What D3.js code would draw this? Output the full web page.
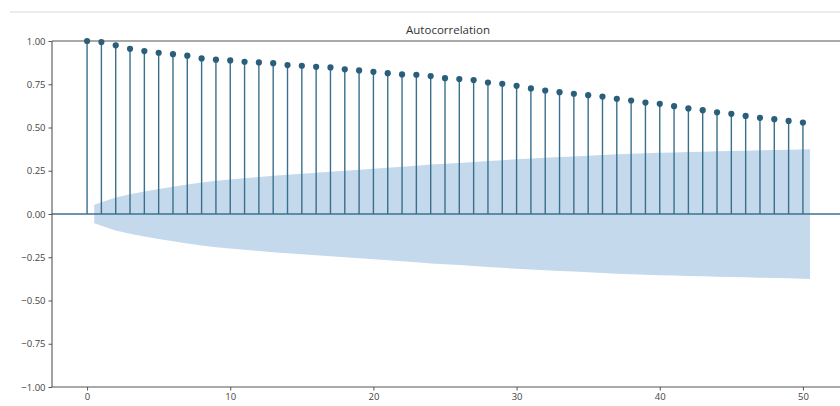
<!DOCTYPE html>
<html>
<head>
<meta charset="utf-8">
<script src="https://cdn.jsdelivr.net/npm/d3@7"></script>
<style>
  html, body { margin: 0; padding: 0; background: #ffffff; }
  svg { display: block; }
</style>
</head>
<body>
<div id="chart"></div>
<script>
// ---- data ----
const title = "Autocorrelation";
const lags = d3.range(0, 51);
const acfValues = [
  1.000, 0.994, 0.975, 0.955, 0.942, 0.932, 0.924, 0.915, 0.899, 0.892,
  0.888, 0.880, 0.876, 0.872, 0.861, 0.857, 0.851, 0.847, 0.836, 0.830,
  0.822, 0.814, 0.807, 0.805, 0.797, 0.785, 0.780, 0.774, 0.760, 0.753,
  0.741, 0.726, 0.714, 0.704, 0.695, 0.687, 0.679, 0.666, 0.656, 0.644,
  0.637, 0.623, 0.610, 0.600, 0.588, 0.579, 0.567, 0.556, 0.548, 0.538,
  0.529
];
const bandLags = [0.5].concat(d3.range(1, 50), [50.5]);
const bandHalfWidth = [
  0.053, 0.068, 0.095, 0.114, 0.130, 0.145, 0.157, 0.170, 0.182, 0.192,
  0.200, 0.207, 0.214, 0.221, 0.227, 0.232, 0.238, 0.244, 0.250, 0.256,
  0.262, 0.267, 0.273, 0.279, 0.286, 0.290, 0.295, 0.300, 0.306, 0.311,
  0.317, 0.321, 0.325, 0.329, 0.333, 0.337, 0.341, 0.345, 0.348, 0.351,
  0.354, 0.356, 0.358, 0.360, 0.362, 0.364, 0.366, 0.368, 0.370, 0.372,
  0.375
];
const xTicks = [0, 10, 20, 30, 40, 50];
const yTicks = [-1.00, -0.75, -0.50, -0.25, 0.00, 0.25, 0.50, 0.75, 1.00];

// ---- layout ----
const W = 840, H = 406;
const plot = { left: 52, right: 838, top: 41, bottom: 387 };

const svg = d3.select("#chart").append("svg")
  .attr("width", W).attr("height", H);

const x = d3.scaleLinear().domain([-2.45, 52.45]).range([plot.left, plot.right]);
const y = d3.scaleLinear().domain([-1, 1]).range([plot.bottom, plot.top]);

// faint screenshot rule at very top
svg.append("line")
  .attr("x1", 10).attr("x2", W).attr("y1", 12).attr("y2", 12)
  .attr("stroke", "#ececec").attr("stroke-width", 2);

// confidence band
const band = bandLags.map((l, i) => ({ l, h: bandHalfWidth[i] }));
svg.append("path")
  .datum(band)
  .attr("fill", "#c5d9ec")
  .attr("d", d3.area()
    .x(d => x(d.l))
    .y0(d => y(-d.h))
    .y1(d => y(d.h)));

// zero line
svg.append("line")
  .attr("x1", plot.left).attr("x2", W)
  .attr("y1", y(0)).attr("y2", y(0))
  .attr("stroke", "#3d7391").attr("stroke-width", 1.3);

// stems
const pts = lags.map((l, i) => ({ l, v: acfValues[i] }));
svg.append("g").selectAll("line")
  .data(pts).join("line")
  .attr("x1", d => x(d.l)).attr("x2", d => x(d.l))
  .attr("y1", y(0)).attr("y2", d => y(d.v))
  .attr("stroke", "#3a6f8c").attr("stroke-width", 1.4);

// markers
svg.append("g").selectAll("circle")
  .data(pts).join("circle")
  .attr("cx", d => x(d.l)).attr("cy", d => y(d.v))
  .attr("r", 3.1)
  .attr("fill", "#2a5f7c");

// axes
const fontFam = "'Open Sans', 'DejaVu Sans', sans-serif";
const yAxis = svg.append("g")
  .attr("transform", `translate(${plot.left},0)`)
  .call(d3.axisLeft(y).tickValues(yTicks).tickFormat(d3.format(".2f")).tickSize(3.5).tickPadding(3));
yAxis.select(".domain").remove();
const xAxis = svg.append("g")
  .attr("transform", `translate(0,${plot.bottom})`)
  .call(d3.axisBottom(x).tickValues(xTicks).tickFormat(d3.format("d")).tickSize(3.5).tickPadding(3));
xAxis.select(".domain").remove();

[yAxis, xAxis].forEach(a => {
  a.selectAll("text")
    .attr("font-family", fontFam).attr("font-size", 9.5).attr("fill", "#444");
  a.selectAll(".tick line").attr("stroke", "#555");
});
yAxis.selectAll("text").text(d => d3.format(".2f")(d).replace("-", "\u2212"));

// spines
const spine = svg.append("g").attr("stroke", "#555").attr("stroke-width", 1.1);
spine.append("line").attr("x1", plot.left).attr("x2", plot.left).attr("y1", plot.top).attr("y2", plot.bottom);
spine.append("line").attr("x1", plot.left).attr("x2", W).attr("y1", plot.bottom).attr("y2", plot.bottom);
spine.append("line").attr("x1", plot.left).attr("x2", W).attr("y1", plot.top).attr("y2", plot.top);

// title
svg.append("text")
  .attr("x", 448).attr("y", 34)
  .attr("text-anchor", "middle")
  .attr("font-family", fontFam).attr("font-size", 11.5)
  .attr("fill", "#333")
  .text(title);
</script>
</body>
</html>
